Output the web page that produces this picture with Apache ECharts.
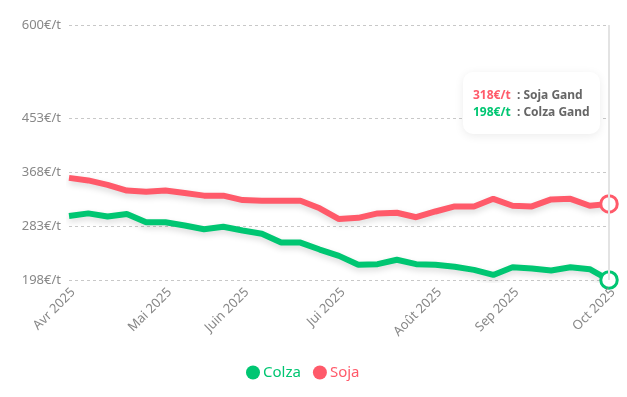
<!DOCTYPE html>
<html>
<head>
<meta charset="utf-8">
<script src="https://cdn.jsdelivr.net/npm/echarts@6/dist/echarts.min.js"></script>
<style>
  html, body { margin: 0; padding: 0; background: #fff; }
  #chart { width: 627px; height: 397px; }
</style>
</head>
<body>
<div id="chart"></div>
<script>
// semaines (catégories)
const weeks = [
  "2025-04-01", "2025-04-08", "2025-04-15", "2025-04-22", "2025-04-29",
  "2025-05-06", "2025-05-13", "2025-05-20", "2025-05-27", "2025-06-03",
  "2025-06-10", "2025-06-17", "2025-06-24", "2025-07-01", "2025-07-08",
  "2025-07-15", "2025-07-22", "2025-07-29", "2025-08-05", "2025-08-12",
  "2025-08-19", "2025-08-26", "2025-09-02", "2025-09-09", "2025-09-16",
  "2025-09-23", "2025-09-30", "2025-10-07", "2025-10-14"
];
// libellés des mois (index -> texte)
const monthLabels = {
  0: "Avr 2025", 5: "Mai 2025", 9: "Juin 2025", 14: "Jui 2025",
  19: "Août 2025", 23: "Sep 2025", 28: "Oct 2025"
};
const yTicks = [198, 283, 368, 453, 600];

const colza = [
  299, 303, 298, 302, 289, 289, 284, 278, 282, 276,
  271, 257, 257, 246, 236, 222, 223, 230, 223, 222,
  219, 214, 206, 218, 216, 213, 218, 215, 198
];
const soja = [
  359, 355, 348, 339, 337, 339, 335, 331, 331, 324,
  323, 323, 323, 311, 294, 296, 303, 304, 297, 306,
  314, 314, 326, 315, 314, 325, 326, 315, 318
];

const GREEN = "#00c672";
const RED = "#ff5a6a";
const FONT = "Noto Sans";

const myChart = echarts.init(document.getElementById("chart"));

const lastPoint = (arr, color) =>
  arr.map((v, i) =>
    i === arr.length - 1
      ? {
          value: v,
          symbol: "circle",
          symbolSize: 15,
          itemStyle: { color: "#fff", borderColor: color, borderWidth: 3 },
        }
      : v
  );

myChart.setOption({
  animation: false,
  textStyle: { fontFamily: FONT },
  grid: { left: 69, right: 18, top: 25, bottom: 117, outerBoundsMode: "none" },
  tooltip: {
    trigger: "axis",
    alwaysShowContent: true,
    position: [463, 72],
    backgroundColor: "#fff",
    borderWidth: 0,
    padding: [14, 10, 14, 10],
    extraCssText:
      "border-radius:10px;box-shadow:0 2px 10px rgba(0,0,0,0.08);",
    axisPointer: {
      type: "line",
      lineStyle: { color: "#e3e3e3", width: 2, type: "solid" },
    },
    formatter: (params) => {
      const idx = params[0].dataIndex;
      const row = (val, color, name) =>
        `<div style="font-family:${FONT};font-size:12px;font-weight:bold;line-height:17px;white-space:nowrap">` +
        `<span style="color:${color}">${val}€/t</span>` +
        `<span style="color:#666">&nbsp; : ${name}</span></div>`;
      return row(soja[idx], RED, "Soja Gand") + row(colza[idx], GREEN, "Colza Gand");
    },
  },
  legend: {
    top: 360,
    left: 241,
    icon: "circle",
    itemWidth: 14,
    itemHeight: 14,
    itemGap: 12,
    textStyle: { fontSize: 15, fontFamily: FONT, padding: [0, 0, 0, -2] },
    data: [
      { name: "Colza", textStyle: { color: GREEN }, itemStyle: { color: GREEN, borderWidth: 0 } },
      { name: "Soja", textStyle: { color: RED }, itemStyle: { color: RED, borderWidth: 0 } },
    ],
  },
  xAxis: {
    type: "category",
    boundaryGap: false,
    data: weeks,
    z: 5,
    axisLine: { show: false },
    axisTick: { show: false },
    axisLabel: {
      interval: (idx) => monthLabels[idx] !== undefined,
      formatter: (v, idx) => monthLabels[idx] || "",
      rotate: 45,
      color: "#888",
      fontSize: 13,
      lineHeight: 12,
      verticalAlign: "top",
      margin: 6,
      hideOverlap: false,
    },
  },
  yAxis: {
    type: "value",
    min: 198,
    max: 600,
    axisLine: { show: false },
    axisTick: { show: false, customValues: yTicks },
    axisLabel: {
      customValues: yTicks,
      formatter: "{value}€/t",
      color: "#888",
      fontSize: 13,
      margin: 8,
    },
    splitLine: {
      show: true,
      lineStyle: { type: [3, 3], color: "#c8c8c8" },
    },
  },
  series: [
    {
      name: "Colza",
      type: "line",
      data: lastPoint(colza, GREEN),
      symbol: "none",
      color: GREEN,
      lineStyle: {
        width: 6,
        color: GREEN,
        shadowColor: "rgba(0,0,0,0.15)",
        shadowBlur: 6,
        shadowOffsetY: 3,
      },
      emphasis: { disabled: true },
      z: 3,
    },
    {
      name: "Soja",
      type: "line",
      data: lastPoint(soja, RED),
      symbol: "none",
      color: RED,
      lineStyle: {
        width: 6,
        color: RED,
        shadowColor: "rgba(0,0,0,0.15)",
        shadowBlur: 6,
        shadowOffsetY: 3,
      },
      emphasis: { disabled: true },
      z: 3,
    },
  ],
});

myChart.dispatchAction({ type: "showTip", seriesIndex: 0, dataIndex: weeks.length - 1 });
</script>
</body>
</html>
